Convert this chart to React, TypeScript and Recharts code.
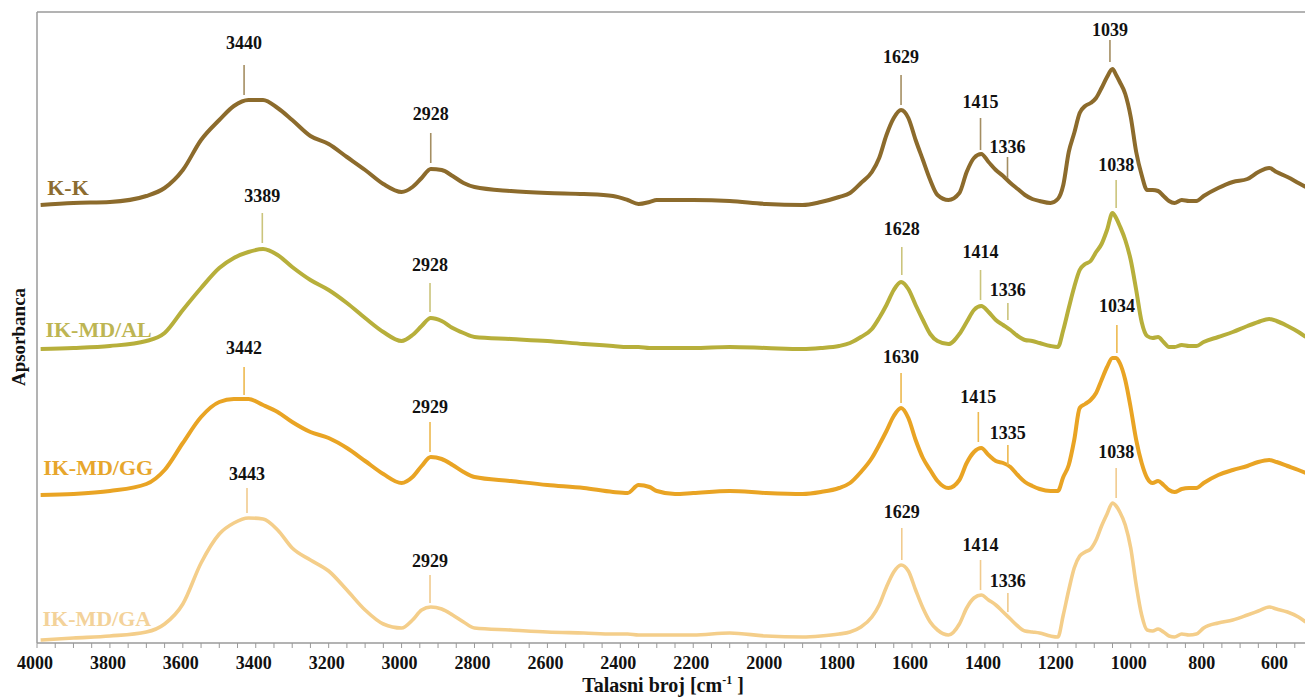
import React from 'react';
import { LineChart, Line, XAxis, YAxis, ReferenceLine, ReferenceDot } from 'recharts';

const FONT = '"Liberation Serif", "Times New Roman", Times, serif';

// Wavenumber grid (cm-1)
const wavenumbers = [
  3990, 3900, 3800, 3700, 3650, 3600, 3550, 3500, 3460, 3420,
  3380, 3340, 3300, 3250, 3200, 3150, 3100, 3050, 3000, 2970,
  2945, 2920, 2890, 2860, 2830, 2800, 2700, 2600, 2500, 2420,
  2380, 2350, 2320, 2300, 2250, 2200, 2100, 2000, 1900, 1850,
  1800, 1770, 1740, 1710, 1690, 1670, 1650, 1630, 1610, 1590,
  1570, 1550, 1530, 1500, 1470, 1450, 1430, 1410, 1390, 1370,
  1350, 1330, 1310, 1290, 1270, 1250, 1220, 1200, 1185, 1170,
  1155, 1140, 1125, 1110, 1095, 1080, 1065, 1050, 1040, 1030,
  1015, 1000, 985, 970, 955, 940, 925, 910, 895, 880,
  860, 840, 820, 800, 760, 720, 680, 650, 620, 600,
  570, 540, 520,
];

// Absorbance (arbitrary units, stacked with offsets)
const kkValues = [
  438, 440, 441, 447, 455, 473, 503, 523, 537, 543,
  543, 535, 523, 507, 499, 486, 473, 459, 451, 456,
  465, 474, 473, 467, 460, 456, 452, 450, 449, 447,
  443, 439, 441, 443, 443, 443, 442, 439, 438, 441,
  446, 450, 460, 471, 485, 508, 525, 533, 525, 503,
  483, 463, 448, 443, 450, 471, 485, 489, 481, 473,
  467, 460, 454, 448, 444, 442, 440, 444, 458, 491,
  510, 530, 537, 540, 545, 555, 566, 574, 568, 561,
  549, 526, 491, 468, 453, 453, 452, 447, 442, 440,
  443, 442, 442, 447, 455, 461, 464, 471, 475, 471,
  466, 460, 456,
];
const alValues = [
  294, 295, 297, 302, 310, 333, 355, 375, 385, 391,
  394, 388, 376, 363, 353, 340, 325, 311, 302, 308,
  317, 325, 322, 315, 310, 306, 304, 302, 299, 297,
  296, 296, 295, 295, 295, 295, 296, 295, 294, 295,
  297, 300, 306, 314, 325, 338, 353, 361, 354, 338,
  323, 309, 302, 299, 309, 321, 333, 337, 331, 323,
  318, 313, 307, 303, 302, 300, 297, 296, 313, 335,
  356, 373, 379, 382, 391, 399, 413, 430, 425, 417,
  403, 383, 353, 321, 307, 305, 306, 301, 296, 296,
  298, 297, 297, 301, 306, 311, 317, 321, 324, 322,
  317, 311, 306,
];
const ggValues = [
  148, 149, 152, 159, 173, 200, 226, 241, 244, 244,
  238, 231, 221, 211, 205, 195, 182, 169, 160, 166,
  177, 186, 184, 178, 171, 166, 162, 158, 155, 151,
  150, 158, 156, 152, 149, 150, 152, 150, 149, 151,
  155, 160, 171, 185, 198, 212, 227, 235, 225, 203,
  185, 173, 162, 155, 163, 180, 191, 195, 188, 182,
  180, 176, 168, 161, 157, 154, 152, 152, 166, 178,
  203, 235, 239, 243, 250, 263, 276, 285, 285, 280,
  263, 235, 203, 180, 165, 160, 162, 158, 153, 151,
  154, 155, 155, 160, 168, 173, 177, 181, 183, 181,
  177, 173, 170,
];
const gaValues = [
  3, 5, 7, 11, 19, 39, 80, 109, 120, 125,
  124, 113, 95, 83, 72, 53, 33, 19, 15, 23,
  33, 36, 34, 28, 21, 15, 13, 11, 10, 9,
  9, 8, 8, 8, 8, 8, 10, 7, 6, 7,
  9, 11, 16, 26, 38, 56, 71, 78, 72, 53,
  35, 21, 13, 8, 19, 35, 45, 48, 43, 38,
  31, 24, 17, 12, 11, 10, 7, 6, 28, 53,
  75, 87, 91, 94, 103, 117, 129, 140, 137, 131,
  118, 95, 58, 28, 13, 12, 14, 11, 7, 6,
  9, 8, 9, 15, 20, 23, 28, 32, 36, 34,
  31, 26, 21,
];

const seriesNames = ['K-K', 'IK-MD/AL', 'IK-MD/GG', 'IK-MD/GA'];
const seriesKeys = ['kk', 'al', 'gg', 'ga'];

const majorTickLabels = [4000, 3800, 3600, 3400, 3200, 3000, 2800, 2600, 2400, 2200, 2000, 1800, 1600, 1400, 1200, 1000, 800, 600];
const minorTicks = Array.from({ length: 70 }, (_, i) => 4000 - i * 50);

// Peak annotations: label, position (cm-1), marker bottom/top, text baseline (a.u.)
const kkPeaks = [
  { label: '3440', w: 3432, from: 548, to: 578, text: 594 },
  { label: '2928', w: 2920, from: 480, to: 510, text: 523 },
  { label: '1629', w: 1630, from: 538, to: 568, text: 580 },
  { label: '1415', w: 1412, from: 493, to: 525, text: 535 },
  { label: '1336', w: 1338, from: 465, to: 486, text: 490 },
  { label: '1039', w: 1057, from: 581, to: 603, text: 607 },
];
const alPeaks = [
  { label: '3389', w: 3382, from: 400, to: 430, text: 441 },
  { label: '2928', w: 2922, from: 331, to: 360, text: 372 },
  { label: '1628', w: 1628, from: 368, to: 396, text: 408 },
  { label: '1414', w: 1412, from: 343, to: 373, text: 385 },
  { label: '1336', w: 1337, from: 323, to: 340, text: 347 },
  { label: '1038', w: 1040, from: 435, to: 463, text: 472 },
];
const ggPeaks = [
  { label: '3442', w: 3432, from: 248, to: 276, text: 289 },
  { label: '2929', w: 2922, from: 191, to: 221, text: 230 },
  { label: '1630', w: 1630, from: 240, to: 270, text: 280 },
  { label: '1415', w: 1418, from: 201, to: 231, text: 240 },
  { label: '1335', w: 1337, from: 178, to: 198, text: 204 },
  { label: '1034', w: 1038, from: 290, to: 318, text: 331 },
];
const gaPeaks = [
  { label: '3443', w: 3424, from: 130, to: 155, text: 163 },
  { label: '2929', w: 2922, from: 40, to: 68, text: 76 },
  { label: '1629', w: 1628, from: 83, to: 115, text: 125 },
  { label: '1414', w: 1412, from: 53, to: 83, text: 92 },
  { label: '1336', w: 1337, from: 31, to: 50, text: 56 },
  { label: '1038', w: 1040, from: 145, to: 175, text: 185 },
];

const data = wavenumbers.map((w, i) => ({
  w,
  kk: kkValues[i],
  al: alValues[i],
  gg: ggValues[i],
  ga: gaValues[i],
}));

// styling
const lineColors = ['#8C6B2C', '#B7AF3B', '#E9A424', '#F4CE8A'];
const nameColors = ['#8C6C30', '#BDB553', '#E7A62C', '#F3D29A'];
const markerColors = ['#A48E62', '#CBC47C', '#EDB94F', '#F1CB8E'];
const lineWidths = [4, 4, 4, 3.6];
const nameAnchors = [
  { w: 3972, v: 448 },
  { w: 3977, v: 306 },
  { w: 3983, v: 168 },
  { w: 3985, v: 17 },
];
const peakSets = [kkPeaks, alPeaks, ggPeaks, gaPeaks];

const AXIS = '#9a9a9a';

const XTick = (props: any) => {
  const { x, y, payload } = props;
  if (!majorTickLabels.includes(payload.value)) return <g />;
  return (
    <text x={x - 2} y={y} dy="0.71em" textAnchor="middle" fontFamily={FONT} fontWeight="bold" fontSize={18} fill="#111">
      {payload.value}
    </text>
  );
};

const XTitle = () => (
  <text x={663} y={692} textAnchor="middle" fontFamily={FONT} fontWeight="bold" fontSize={20} fill="#111">
    <tspan>Talasni broj [cm</tspan>
    <tspan dy={-8} fontSize={12}>-1</tspan>
    <tspan dy={8}> ]</tspan>
  </text>
);

const YTitle = () => (
  <text x={25} y={337} transform="rotate(-90 25 337)" textAnchor="middle" fontFamily={FONT} fontWeight="bold" fontSize={19} fill="#111">
    Apsorbanca
  </text>
);

const makeText = (txt: string, opts: { anchor: string; size: number; color: string }) => (props: any) => {
  const vb = props.viewBox || {};
  const cx = (vb.x || 0) + (vb.width || 0) / 2;
  const cy = (vb.y || 0) + (vb.height || 0) / 2;
  return (
    <text x={cx} y={cy} textAnchor={opts.anchor} fontFamily={FONT} fontWeight="bold" fontSize={opts.size} fill={opts.color}>
      {txt}
    </text>
  );
};

export default function App() {
  return (
    <div style={{ position: 'absolute', left: 0, top: 0, width: 1305, height: 698, background: '#fff' }}>
      <LineChart width={1305} height={698} data={data} margin={{ top: 12, right: 0, bottom: 0, left: 0 }}>
        <XAxis
          dataKey="w"
          type="number"
          domain={[522, 4000]}
          reversed
          allowDataOverflow
          ticks={minorTicks}
          interval={0}
          tickSize={5}
          tickMargin={8}
          height={55}
          axisLine={{ stroke: AXIS, strokeWidth: 1.5 }}
          tickLine={{ stroke: AXIS, strokeWidth: 1 }}
          tick={<XTick />}
          label={{ content: XTitle }}
        />
        <YAxis
          type="number"
          domain={[0, 631]}
          allowDataOverflow
          width={37}
          tick={false}
          tickLine={false}
          axisLine={{ stroke: AXIS, strokeWidth: 1.5 }}
          label={{ content: YTitle }}
        />
        <ReferenceLine y={631} stroke={AXIS} strokeWidth={1.5} />
        {seriesKeys.map((k, i) => (
          <Line
            key={k}
            dataKey={k}
            name={seriesNames[i]}
            type="monotone"
            stroke={lineColors[i]}
            strokeWidth={lineWidths[i]}
            dot={false}
            activeDot={false}
            isAnimationActive={false}
          />
        ))}
        {peakSets.map((peaks, si) =>
          peaks.map((p, pi) => (
            <ReferenceLine
              key={`pl-${si}-${pi}`}
              segment={[{ x: p.w, y: p.from }, { x: p.w, y: p.to }]}
              stroke={markerColors[si]}
              strokeWidth={1.6}
              ifOverflow="visible"
            />
          ))
        )}
        {peakSets.map((peaks, si) =>
          peaks.map((p, pi) => (
            <ReferenceDot
              key={`pt-${si}-${pi}`}
              x={p.w}
              y={p.text}
              r={0}
              fill="none"
              stroke="none"
              ifOverflow="visible"
              label={{ content: makeText(p.label, { anchor: 'middle', size: 18, color: '#111' }) }}
            />
          ))
        )}
        {seriesNames.map((n, i) => (
          <ReferenceDot
            key={`name-${i}`}
            x={nameAnchors[i].w}
            y={nameAnchors[i].v}
            r={0}
            fill="none"
            stroke="none"
            ifOverflow="visible"
            label={{ content: makeText(n, { anchor: 'start', size: 22, color: nameColors[i] }) }}
          />
        ))}
      </LineChart>
    </div>
  );
}
